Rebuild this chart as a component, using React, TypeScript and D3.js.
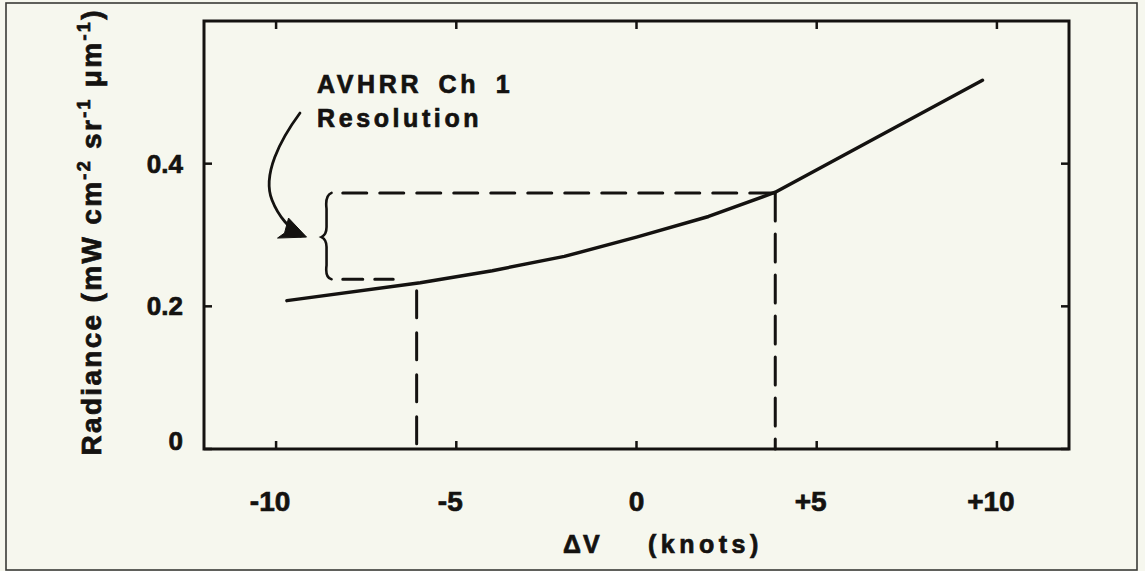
import React from 'react';
import * as d3 from 'd3';

// ---- data ----
const xTicks = [-10, -5, 0, 5, 10];
const xTickLabels = ['-10', '-5', '0', '+5', '+10'];
const yTicks = [0, 0.2, 0.4];
const yTickLabels = ['0', '0.2', '0.4'];
const curveX = [-9.7, -6, -4, -2, 0, 2, 3.85, 9.6];
const curveY = [0.208, 0.233, 0.25, 0.27, 0.297, 0.326, 0.36, 0.517];
const resLow = 0.238;
const resHigh = 0.359;
const dvLow = -6.1;
const dvHigh = 3.85;
const braceX = -8.6;
const annotationLines = ['AVHRR Ch 1', 'Resolution'];

const W = 1145;
const H = 571;
const FONT = "'Liberation Sans', Arial, Helvetica, sans-serif";
const BG = '#f6f7ee';
const INK = '#141210';

export default function App() {
  const x = d3.scaleLinear().domain([-12, 12]).range([204, 1069]);
  const y = d3.scaleLinear().domain([0, 0.6]).range([449, 21]);
  const [x0, x1] = x.range();
  const [y0, y1] = y.range();
  const pts: [number, number][] = curveX.map((v, i) => [v, curveY[i]]);
  const line = d3
    .line<[number, number]>()
    .x((d) => x(d[0]))
    .y((d) => y(d[1]))
    .curve(d3.curveLinear);

  const tickLen = 8;
  const bx = x(braceX);
  const bTop = y(resHigh);
  const bBot = y(resLow);
  const bMid = (bTop + bBot) / 2 + 1;
  const brace = `M${bx + 5},${bTop} C${bx},${bTop + 2} ${bx - 1},${bTop + 8} ${bx},${bTop + 16} L${bx},${bMid - 10} C${bx},${bMid - 3} ${bx - 3},${bMid - 1} ${bx - 5},${bMid} C${bx - 3},${bMid + 1} ${bx},${bMid + 3} ${bx},${bMid + 10} L${bx},${bBot - 14} C${bx - 1},${bBot - 6} ${bx},${bBot - 1} ${bx + 5},${bBot}`;

  // curved arrow from annotation to brace
  const tipX = bx - 20;
  const tipY = bMid;
  const arrow = `M300,113 C280,140 262,175 272,200 C279,218 290,228 ${tipX - 6},${tipY - 1}`;
  const head = `M${tipX},${tipY} L${tipX - 29},${tipY + 1} L${tipX - 22},${tipY - 4} L${tipX - 18},${tipY - 19} Z`;

  const txt = { fill: INK, stroke: INK, strokeWidth: 0.7, fontWeight: 'bold' as const };

  return (
    <svg
      width={W}
      height={H}
      viewBox={`0 0 ${W} ${H}`}
      style={{ position: 'absolute', left: 0, top: 0, background: BG }}
      fontFamily={FONT}
    >
      <rect x={0} y={0} width={W} height={H} fill={BG} />
      {/* outer frame */}
      <rect x={6} y={3} width={1131} height={567} fill="none" stroke="#3a3a36" strokeWidth={1.6} />

      {/* plot frame */}
      <rect x={x0} y={y1} width={x1 - x0} height={y0 - y1} fill="none" stroke={INK} strokeWidth={3} />

      {/* x ticks (inward, bottom and top) */}
      {xTicks.map((t) => (
        <g key={'xt' + t}>
          <line x1={x(t)} x2={x(t)} y1={y0} y2={y0 - tickLen} stroke={INK} strokeWidth={2.5} />
          <line x1={x(t)} x2={x(t)} y1={y1} y2={y1 + tickLen} stroke={INK} strokeWidth={2.5} />
        </g>
      ))}
      {/* y ticks (inward, left and right) */}
      {yTicks.map((t) => (
        <g key={'yt' + t}>
          <line x1={x0} x2={x0 + tickLen} y1={y(t)} y2={y(t)} stroke={INK} strokeWidth={2.5} />
          <line x1={x1} x2={x1 - tickLen} y1={y(t)} y2={y(t)} stroke={INK} strokeWidth={2.5} />
        </g>
      ))}

      {/* tick labels */}
      {xTicks.map((t, i) => (
        <text key={'xl' + t} x={x(t) - (t === 0 ? 0 : 6)} y={511} textAnchor="middle" fontSize={28} {...txt}>
          {xTickLabels[i]}
        </text>
      ))}
      {yTicks.map((t, i) => (
        <text key={'yl' + t} x={183} y={y(t) + (t === 0 ? 1 : 9)} textAnchor="end" fontSize={26} {...txt}>
          {yTickLabels[i]}
        </text>
      ))}

      {/* axis titles */}
      <text x={563} y={553} fontSize={25} letterSpacing={2} {...txt}>
        ΔV
      </text>
      <text x={648} y={553} fontSize={25} letterSpacing={4.5} {...txt}>
        (knots)
      </text>
      <g transform="translate(101,233) rotate(-90)">
        <text x={0} y={0} textAnchor="middle" fontSize={28} textLength={445} lengthAdjust="spacing" {...txt}>
          <tspan>Radiance (mW cm</tspan>
          <tspan fontSize={18} dy={-11}>-2</tspan>
          <tspan dy={11}> sr</tspan>
          <tspan fontSize={18} dy={-11}>-1</tspan>
          <tspan dy={11}> μm</tspan>
          <tspan fontSize={18} dy={-11}>-1</tspan>
          <tspan dy={11}>)</tspan>
        </text>
      </g>

      {/* dashed resolution guides */}
      <g stroke={INK} strokeWidth={3} fill="none" strokeLinecap="round">
        <line x1={x(dvLow)} x2={x(dvLow)} y1={y(0.222)} y2={y0} strokeDasharray="27 15" />
        <line x1={x(dvHigh)} x2={x(dvHigh)} y1={y(resHigh)} y2={y0} strokeDasharray="28 13" />
        <line x1={x(-8.15)} x2={x(dvHigh)} y1={y(resHigh)} y2={y(resHigh)} strokeDasharray="24 13" />
        <line x1={x(-8.15)} x2={x(-6.75)} y1={y(resLow)} y2={y(resLow)} strokeDasharray="20 12" />
      </g>

      {/* radiance curve */}
      <path d={line(pts) ?? ''} fill="none" stroke={INK} strokeWidth={3.5} strokeLinecap="round" strokeLinejoin="round" />

      {/* brace and arrow annotation */}
      <path d={brace} fill="none" stroke={INK} strokeWidth={2.6} strokeLinecap="round" />
      <path d={arrow} fill="none" stroke={INK} strokeWidth={2.8} strokeLinecap="round" />
      <path d={head} fill={INK} stroke={INK} strokeWidth={1} strokeLinejoin="round" />
      <text x={317} y={93} fontSize={25} letterSpacing={3.6} wordSpacing={6} {...txt}>
        {annotationLines[0]}
      </text>
      <text x={317} y={127} fontSize={25} letterSpacing={3.6} {...txt}>
        {annotationLines[1]}
      </text>
    </svg>
  );
}
